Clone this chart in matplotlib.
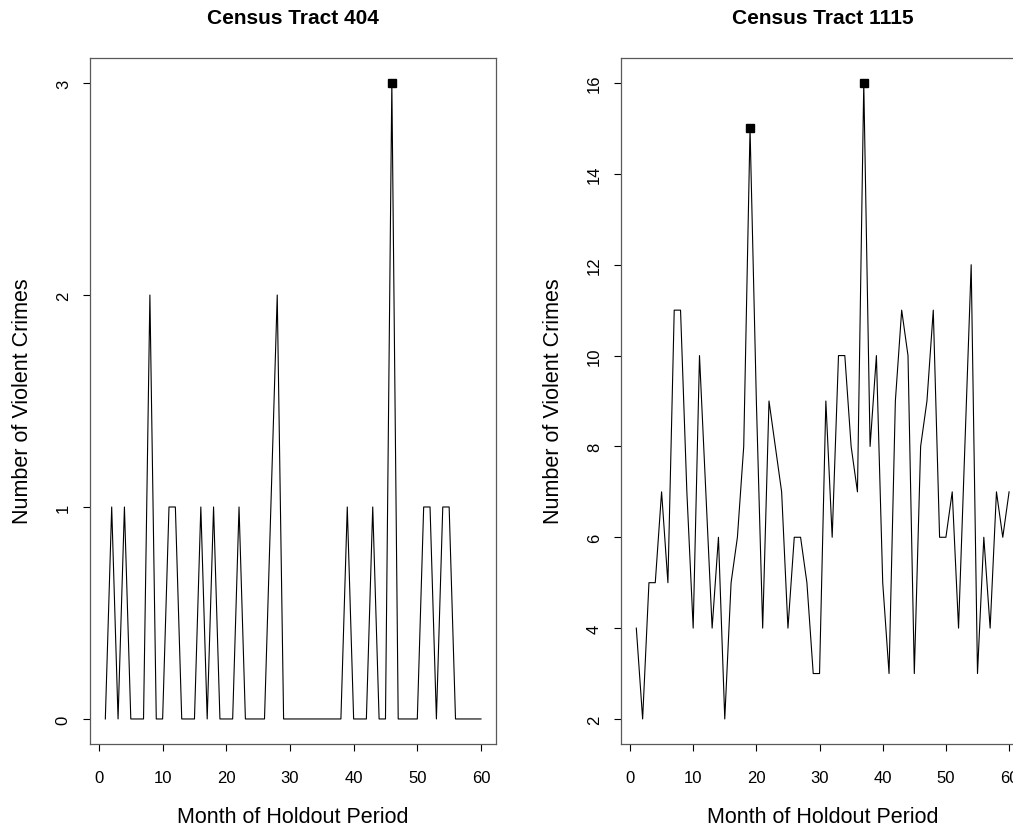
"""Monthly violent crime counts for two census tracts over the holdout period."""

import matplotlib

matplotlib.use("Agg")
import matplotlib.pyplot as plt

plt.rcParams["font.family"] = ["Liberation Sans", "DejaVu Sans"]

months = list(range(1, 61))

tract_404 = [
    0, 1, 0, 1, 0, 0, 0, 2, 0, 0,
    1, 1, 0, 0, 0, 1, 0, 1, 0, 0,
    0, 1, 0, 0, 0, 0, 1, 2, 0, 0,
    0, 0, 0, 0, 0, 0, 0, 0, 1, 0,
    0, 0, 1, 0, 0, 3, 0, 0, 0, 0,
    1, 1, 0, 1, 1, 0, 0, 0, 0, 0,
]
tract_1115 = [
    4, 2, 5, 5, 7, 5, 11, 11, 7, 4,
    10, 7, 4, 6, 2, 5, 6, 8, 15, 9,
    4, 9, 8, 7, 4, 6, 6, 5, 3, 3,
    9, 6, 10, 10, 8, 7, 16, 8, 10, 5,
    3, 9, 11, 10, 3, 8, 9, 11, 6, 6,
    7, 4, 8, 12, 3, 6, 4, 7, 6, 7,
]
# months flagged with a square marker
flagged_404 = [46]
flagged_1115 = [19, 37]

panels = [
    ("Census Tract 404", tract_404, flagged_404, [0, 1, 2, 3]),
    ("Census Tract 1115", tract_1115, flagged_1115, [2, 4, 6, 8, 10, 12, 14, 16]),
]

W, H = 1013, 829
fig = plt.figure(figsize=(W / 100, H / 100), dpi=100)

# axes boxes in pixels: left, right, top, bottom (right panel runs off the canvas)
boxes = [(90.3, 496.0, 58.6, 745.4), (621.4, 1024.0, 58.6, 745.4)]


def _px_axes(left, right, top, bottom):
    return fig.add_axes([left / W, 1 - bottom / H, (right - left) / W, (bottom - top) / H])


for (title, values, flagged, yticks), box in zip(panels, boxes):
    ax = _px_axes(*box)
    ax.plot(months, values, color="black", linewidth=0.8)
    fy = [values[m - 1] for m in flagged]
    ax.plot(flagged, fy, linestyle="none", marker="s", markersize=5.5, color="black")

    lo, hi = min(values), max(values)
    pad = 0.04 * (hi - lo)
    ax.set_ylim(lo - pad, hi + pad)
    xpad = 0.04 * (months[-1] - months[0])
    ax.set_xlim(months[0] - xpad, months[-1] + xpad)

    ax.set_xticks(range(0, 61, 10))
    ax.set_yticks(yticks)
    ax.tick_params(axis="both", direction="out", length=5, width=0.8,
                   labelsize=12, color="black")
    ax.tick_params(axis="x", pad=13.5)
    ax.tick_params(axis="y", pad=9)
    for lab in ax.get_yticklabels():
        lab.set_rotation(90)
        lab.set_va("center")
    for spine in ax.spines.values():
        spine.set_color("0.35")
        spine.set_linewidth(0.9)

    cx = (box[0] + box[1]) / 2
    fig.text(cx / W, 1 - 18 / H, title, ha="center", va="center",
             fontsize=15, fontweight="bold")
    fig.text(cx / W, 1 - 818 / H, "Month of Holdout Period", ha="center",
             va="center", fontsize=15.5)
    fig.text((box[0] - 68) / W, 1 - 401 / H, "Number of Violent Crimes",
             ha="center", va="center", rotation=90, fontsize=15.5)

fig.savefig("out.png", dpi=100)
plt.close(fig)
